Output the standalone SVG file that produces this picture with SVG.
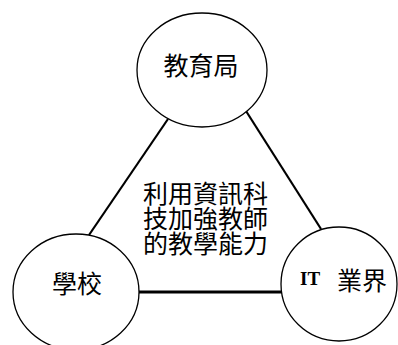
<svg xmlns="http://www.w3.org/2000/svg" width="398" height="345" viewBox="0 0 398 345">
<style>
.node ellipse{fill:#fff;stroke:#000;stroke-width:1.3}
.cjk{font-family:"Noto Sans CJK TC","Noto Sans CJK SC",sans-serif;font-size:25px;fill:#000}
.lat{font-family:"Liberation Serif",serif;font-weight:bold;font-size:19px;fill:#000}
.conn line{stroke:#000;stroke-width:2.2}
</style>
<rect width="398" height="345" fill="#fff"/>
<g id="connectors" class="conn">
<line x1="168" y1="119" x2="89" y2="235"/>
<line x1="246" y1="111" x2="321" y2="229"/>
<line x1="139" y1="292" x2="282" y2="292" style="stroke-width:2.8"/>
</g>
<g id="node-edu" class="node">
<ellipse cx="202" cy="70" rx="65" ry="57"/>
<text class="cjk" x="201" y="75" text-anchor="middle">教育局</text>
</g>
<g id="node-school" class="node">
<ellipse cx="76" cy="292" rx="63" ry="58"/>
<text class="cjk" x="77" y="293" text-anchor="middle">學校</text>
</g>
<g id="node-it" class="node">
<ellipse cx="339" cy="284" rx="58" ry="57"/>
<text class="lat" x="300" y="285">IT</text>
<text class="cjk" x="337" y="290">業界</text>
</g>
<g id="center-label">
<text class="cjk"><tspan x="143" y="203">利用資訊科</tspan><tspan x="143" y="228">技加強教師</tspan><tspan x="143" y="253">的教學能力</tspan></text>
</g>
</svg>
